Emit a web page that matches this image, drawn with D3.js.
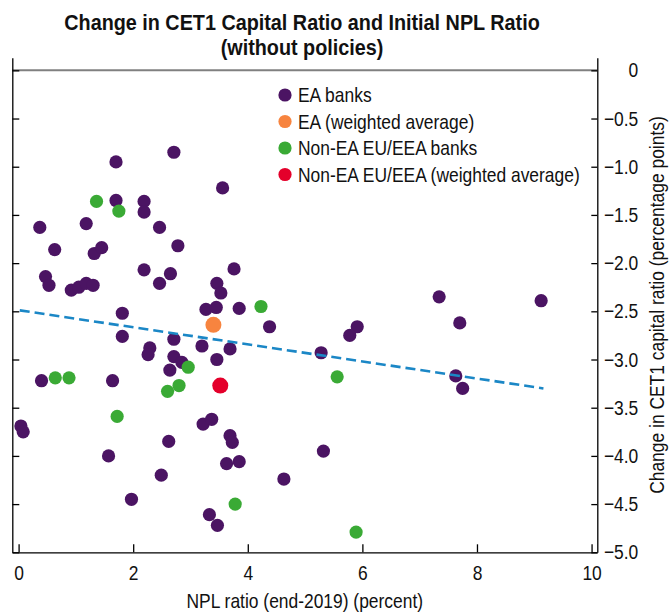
<!DOCTYPE html>
<html>
<head>
<meta charset="utf-8">
<script src="https://cdn.jsdelivr.net/npm/d3@7"></script>
<style>
  html, body { margin: 0; padding: 0; background: #fff; }
  svg { display: block; }
  text { font-family: "Liberation Sans", Arial, Helvetica, sans-serif; fill: #111; }
</style>
</head>
<body>
<svg id="chart" width="671" height="613"></svg>
<script>
// ---------- DATA ----------
const titleLines = ["Change in CET1 Capital Ratio and Initial NPL Ratio", "(without policies)"];
const xLabel = "NPL ratio (end-2019) (percent)";
const yLabel = "Change in CET1 capital ratio (percentage points)";

const seriesNames = ["EA banks", "EA (weighted average)", "Non-EA EU/EEA banks", "Non-EA EU/EEA (weighted average)"];

const eaBanksX = [0.37,0.63,0.47,0.53,0.92,1.05,1.18,1.30,1.18,1.32,1.45,1.70,1.70,1.81,2.19,2.19,2.46,2.71,2.78,2.19,
                  2.46,2.65,3.56,3.46,3.53,3.76,3.27,3.45,3.85,4.38,1.81,2.29,2.26,2.71,2.71,2.85,2.64,3.20,3.46,3.69,
                  5.28,0.40,1.64,0.04,0.08,1.57,2.62,3.22,3.37,3.69,3.73,3.63,3.85,2.49,1.97,4.63,3.33,3.47,5.32,7.34,
                  9.12,7.70,5.91,5.78,7.63,7.75];
const eaBanksY = [-1.63,-1.86,-2.14,-2.23,-2.28,-2.25,-2.21,-2.23,-1.59,-1.90,-1.84,-0.95,-1.35,-2.52,-1.36,-1.47,-1.63,-0.85,-1.82,-2.07,
                  -2.21,-2.11,-1.22,-2.21,-2.31,-2.06,-2.48,-2.46,-2.47,-2.66,-2.76,-2.88,-2.95,-2.79,-2.97,-3.03,-3.11,-2.86,-3.00,-2.89,
                  -2.93,-3.22,-3.22,-3.69,-3.75,-4.00,-3.85,-3.67,-3.62,-3.79,-3.86,-4.08,-4.06,-4.20,-4.45,-4.24,-4.61,-4.72,-3.95,-2.35,
                  -2.39,-2.62,-2.66,-2.75,-3.17,-3.30];

const nonEaBanksX = [1.36,1.75,4.23,0.64,0.88,2.96,2.80,2.60,1.72,3.78,5.56,5.89];
const nonEaBanksY = [-1.36,-1.46,-2.45,-3.19,-3.19,-3.08,-3.27,-3.33,-3.59,-4.50,-3.18,-4.79];

const eaAvgX = [3.40];
const eaAvgY = [-2.64];
const nonEaAvgX = [3.52];
const nonEaAvgY = [-3.27];

// fitted trend line endpoints
const trendX = [0.02, 9.16];
const trendY = [-2.49, -3.30];

const xTicks = [0, 2, 4, 6, 8, 10];
const yTicks = [0, -0.5, -1.0, -1.5, -2.0, -2.5, -3.0, -3.5, -4.0, -4.5, -5.0];

// ---------- STYLE ----------
const colors = ["#4b1463", "#f7843f", "#3aaa35", "#e4002b"];
const trendColor = "#1b87c6";
const dotR = 6.6;
const narrowX = 0.85;   // condensed look for regular text
const narrowTitle = 0.9;

const svg = d3.select("#chart");

const x = d3.scaleLinear().domain([-0.11, 10.1]).range([12.3, 597.3]);
const y = d3.scaleLinear().domain([-5, 0.13]).range([552.3, 57.8]);

// make a text element condensed, keeping its anchor point
function condense(sel, sx, extra) {
  sel.each(function () {
    const t = d3.select(this);
    const tx = +t.attr("x") || 0, ty = +t.attr("y") || 0;
    t.attr("x", 0).attr("y", 0)
     .attr("transform", `translate(${tx},${ty})${extra || ""} scale(${sx},1)`);
  });
}

// Title
svg.append("g").selectAll("text").data(titleLines).join("text")
  .attr("x", 302).attr("y", (d, i) => 30 + i * 25)
  .attr("text-anchor", "middle")
  .style("font-size", "22px").style("font-weight", "bold")
  .text(d => d)
  .call(condense, narrowTitle);

// Zero line
svg.append("line")
  .attr("x1", x.range()[0]).attr("x2", x.range()[1])
  .attr("y1", y(0)).attr("y2", y(0))
  .attr("stroke", "#808080").attr("stroke-width", 2);

// Left axis (ticks only)
const leftAxis = svg.append("g").attr("transform", `translate(${x.range()[0]},0)`)
  .call(d3.axisLeft(y).tickValues(yTicks).tickSizeInner(-7).tickSizeOuter(0).tickFormat(""));

// Right axis
const rightAxis = svg.append("g").attr("transform", `translate(${x.range()[1]},0)`)
  .call(d3.axisRight(y).tickValues(yTicks).tickSizeInner(-6).tickSizeOuter(0)
        .tickFormat(d => d === 0 ? "0" : d3.format(".1f")(d)));
rightAxis.selectAll("text").attr("x", 41).attr("text-anchor", "end");

// Bottom axis
const bottomAxis = svg.append("g").attr("transform", `translate(0,${y.range()[0]})`)
  .call(d3.axisBottom(x).tickValues(xTicks).tickSizeInner(-8).tickSizeOuter(0).tickPadding(13));

[leftAxis, rightAxis, bottomAxis].forEach(g => {
  g.select(".domain").attr("stroke", "#000").attr("stroke-width", 1.3);
  g.selectAll(".tick line").attr("stroke", "#000").attr("stroke-width", 1.3);
  g.selectAll("text").attr("fill", "#111")
    .style("font-family", '"Liberation Sans", Arial, sans-serif').style("font-size", "20.5px")
    .call(condense, narrowX);
});

// Axis titles
svg.append("text")
  .attr("x", (x.range()[0] + x.range()[1]) / 2).attr("y", 608)
  .attr("text-anchor", "middle").style("font-size", "20.5px")
  .text(xLabel)
  .call(condense, narrowX);

svg.append("text")
  .attr("x", 664).attr("y", (y.range()[0] + y.range()[1]) / 2)
  .attr("text-anchor", "middle").style("font-size", "20.5px")
  .text(yLabel)
  .call(condense, narrowX, " rotate(-90)");

// Points
function drawSeries(xs, ys, color, r) {
  svg.append("g").selectAll("circle").data(xs.map((v, i) => [v, ys[i]])).join("circle")
    .attr("cx", d => x(d[0])).attr("cy", d => y(d[1])).attr("r", r)
    .attr("fill", color);
}
drawSeries(eaBanksX, eaBanksY, colors[0], dotR);
drawSeries(nonEaBanksX, nonEaBanksY, colors[2], dotR);

// Trend line
svg.append("path")
  .datum(trendX.map((v, i) => [v, trendY[i]]))
  .attr("d", d3.line().x(d => x(d[0])).y(d => y(d[1])))
  .attr("fill", "none").attr("stroke", trendColor)
  .attr("stroke-width", 2.6).attr("stroke-dasharray", "10,5");

drawSeries(eaAvgX, eaAvgY, colors[1], 8);
drawSeries(nonEaAvgX, nonEaAvgY, colors[3], 8);

// Legend
const legend = svg.append("g").attr("transform", "translate(285,95)");
const items = legend.selectAll("g").data(seriesNames).join("g")
  .attr("transform", (d, i) => `translate(0,${i * 26.5})`);
items.append("circle").attr("r", 6.6).attr("fill", (d, i) => colors[i]);
items.append("text").attr("x", 13).attr("y", 7).style("font-size", "20.5px").text(d => d)
  .call(condense, narrowX);
</script>
</body>
</html>
